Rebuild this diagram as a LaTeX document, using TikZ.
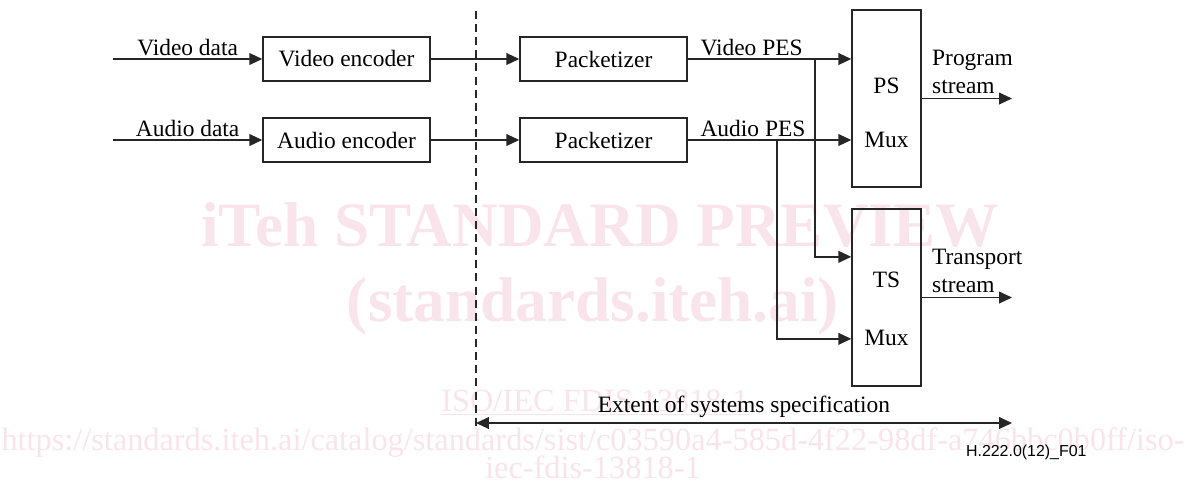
\documentclass[tikz,border=0pt]{standalone}
\usepackage{fontspec}
\setmainfont{Liberation Serif}
\newfontfamily\figfont{Liberation Sans}
\usetikzlibrary{arrows.meta,positioning,calc}
\definecolor{marca}{RGB}{250,228,236}

\begin{document}
\begin{tikzpicture}[
        x=0.015cm, y=-0.015cm,
        font=\fontsize{10}{12}\selectfont,
        % Estilos de cajas y flechas
        base/.style={rectangle, draw=black!85, line width=0.6pt, inner sep=0pt},
        block/.style={base, minimum width=2.505cm, minimum height=0.66cm},
        mux/.style={base, minimum width=1.035cm, minimum height=2.655cm},
        arrow/.style={-{Triangle[length=5.5pt,width=5pt]}, line width=0.6pt, draw=black!85},
        line/.style={line width=0.6pt, draw=black!85},
        lbl/.style={inner sep=1pt},
        wmark/.style={text=marca, inner sep=0pt, anchor=base}
    ]
    \useasboundingbox (0,0) rectangle (1186,482);

    % Marca de agua de fondo
    \node[wmark, font=\fontsize{27}{30}\selectfont\bfseries] (wmA) at (600,246) {iTeh STANDARD PREVIEW};
    \node[wmark, font=\fontsize{27}{30}\selectfont\bfseries] (wmB) at (593,321) {(standards.iteh.ai)};
    \node[wmark, font=\fontsize{13.8}{16}\selectfont] (wmC) at (595,411) {\underline{ISO/IEC FDIS 13818-1}};
    \node[wmark, font=\fontsize{13.8}{16}\selectfont] (wmD) at (593,450) {https://standards.iteh.ai/catalog/standards/sist/c03590a4-585d-4f22-98df-a746bbc0b0ff/iso-};
    \node[wmark, font=\fontsize{13.8}{16}\selectfont] (wmE) at (593,478) {iec-fdis-13818-1};

    % Frontera de la especificacion
    \coordinate (dtop) at (476,11);
    \coordinate (dbot) at (476,430);
    \draw[line, dash pattern=on 3.4pt off 2.2pt] (dtop) -- (dbot);

    % Codificadores y empaquetadores
    \node[block] (venc) at (346.5,59) {Video encoder};
    \node[block] (aenc) at (346.5,140) {Audio encoder};
    \node[block] (vpkt) at (603.5,59) {Packetizer};
    \node[block] (apkt) at (603.5,140) {Packetizer};

    % Multiplexores
    \node[mux] (psmux) at (886.5,98.5) {};
    \node[mux] (tsmux) at (886.5,297.5) {};
    \node (pstag) at (886.5,86) {PS};
    \node (psmx) at (886.5,140) {Mux};
    \node (tstag) at (886.5,280) {TS};
    \node (tsmx) at (886.5,338) {Mux};

    % Entradas y salidas
    \coordinate (vin) at (113,59);
    \coordinate (ain) at (113,140);
    \coordinate (outR) at (1012,99);
    \node[above right, align=left, inner xsep=0pt, inner ysep=2pt] (pslbl) at ([xshift=0.15cm]psmux.east) {Program\\stream};
    \node[above right, align=left, inner xsep=0pt, inner ysep=2pt] (tslbl) at ([xshift=0.15cm]tsmux.east) {Transport\\stream};

    % ---------------- FLECHAS ---------------- %
    \draw[arrow] (vin) -- node[above, lbl] {Video data} (venc);
    \draw[arrow] (ain) -- node[above, lbl] {Audio data} (aenc);
    \draw[arrow] (venc) -- (vpkt);
    \draw[arrow] (aenc) -- (apkt);

    \draw[arrow] (vpkt) -- node[pos=0.06, above right, lbl] {Video PES} (psmux.west |- vpkt);
    \draw[arrow] (apkt) -- node[pos=0.06, above right, lbl] {Audio PES} (psmux.west |- apkt);

    % Derivaciones hacia el TS
    \coordinate (vbr) at (815,59);
    \coordinate (abr) at (777,140);
    \draw[arrow] (vbr) |- ([yshift=0.61cm]tsmux.west);
    \draw[arrow] (abr) |- ([yshift=-0.62cm]tsmux.west);

    \draw[arrow] (psmux.east) -- (outR |- psmux.east);
    \draw[arrow] (tsmux.east) -- (outR |- tsmux.east);

    % Alcance de la especificacion
    \coordinate (extL) at (476,423);
    \coordinate (extR) at (1012,423);
    \draw[line, {Triangle[length=5.5pt,width=5pt]}-{Triangle[length=5.5pt,width=5pt]}] (extL) -- node[above, inner sep=2pt] {Extent of systems specification} (extR);

    \node[font=\figfont\fontsize{6.8}{8}\selectfont, anchor=east, inner sep=0pt] (figid) at (1087,452) {H.222.0(12)\_F01};
\end{tikzpicture}
\end{document}
